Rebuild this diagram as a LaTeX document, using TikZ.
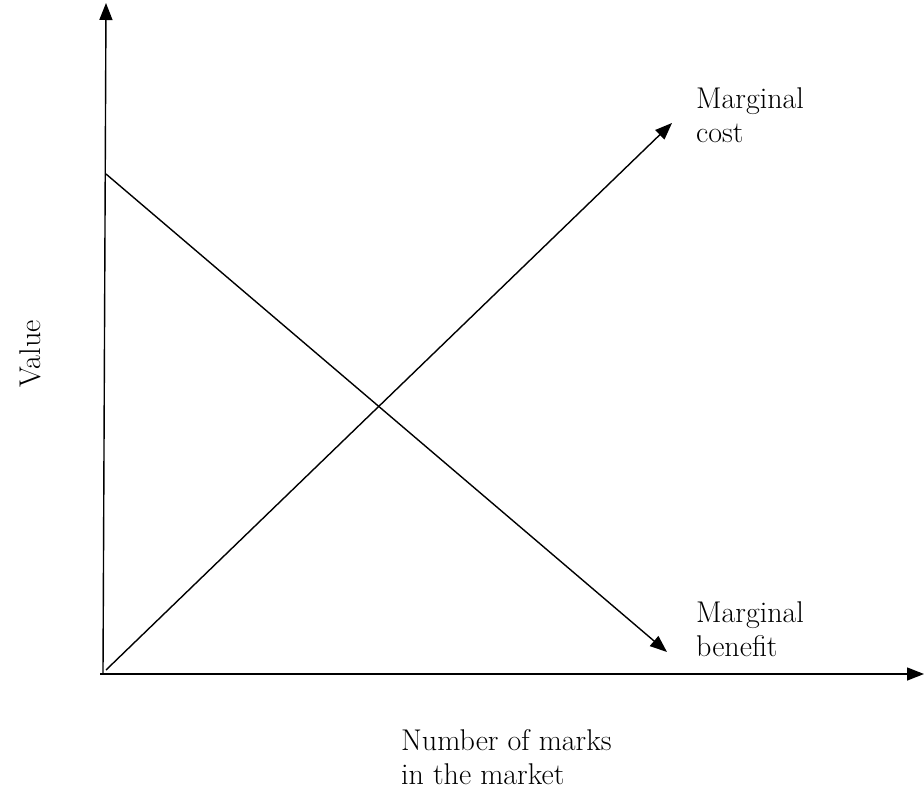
\documentclass[tikz,border=0pt]{standalone}
\usetikzlibrary{arrows.meta}
\begin{document}
\begin{tikzpicture}[x=1pt,y=-1pt,
  ln/.style={line width=1.4pt,-{Triangle[length=17pt,width=13pt]}},
  txt/.style={font=\fontsize{30}{34}\selectfont},
  lbl/.style={txt,anchor=north west,align=left,inner sep=0pt}]
\useasboundingbox (0,0) rectangle (924,792);
\coordinate (o) at (103,673);
\coordinate (ytop) at (106,3);
\coordinate (x0) at (100,674);
\coordinate (xend) at (924,674);
\coordinate (mc0) at (106,670);
\coordinate (mc1) at (672,123);
\coordinate (mb0) at (106,174);
\coordinate (mb1) at (667,652);
\draw[ln] (o) -- (ytop);
\draw[ln] (x0) -- (xend);
\draw[ln] (mc0) -- (mc1);
\draw[ln] (mb0) -- (mb1);
\node[lbl] (mct) at (696,87) {Marginal\\cost};
\node[lbl] (mbt) at (696,601) {Marginal\\benefit};
\node[lbl] (xt) at (401,729) {Number of marks\\in the market};
\node[txt,rotate=90,inner sep=0pt] (yt) at (30,354) {Value};
\end{tikzpicture}
\end{document}
